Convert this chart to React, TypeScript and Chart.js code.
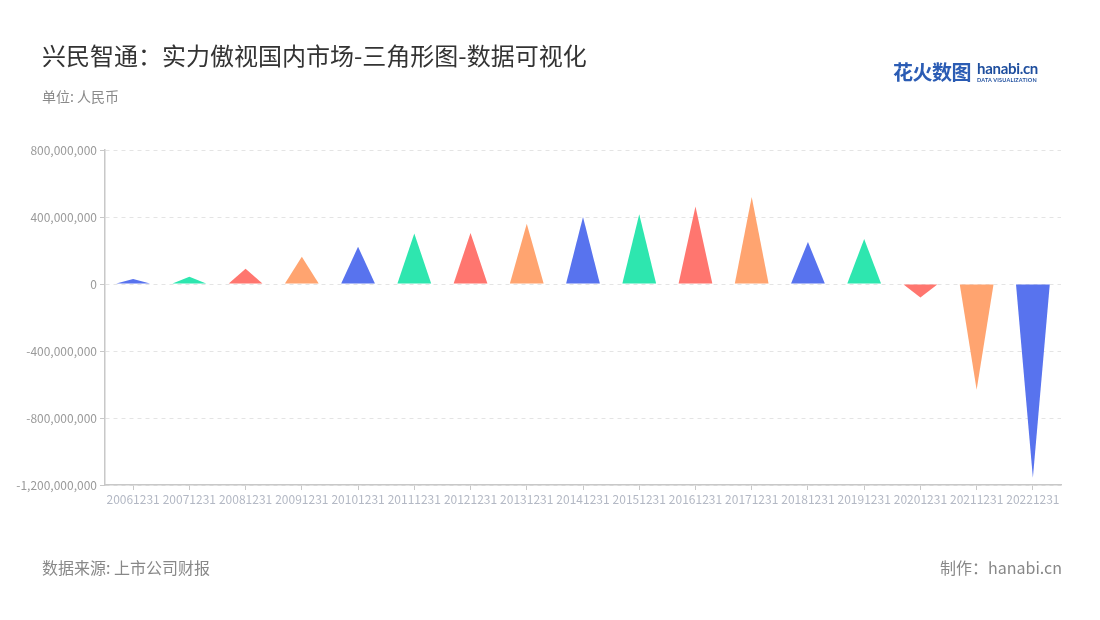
import React, { useEffect, useRef } from "react";
import { Chart, registerables } from "chart.js";

Chart.register(...registerables);

const categories = [
  "20061231", "20071231", "20081231", "20091231", "20101231", "20111231",
  "20121231", "20131231", "20141231", "20151231", "20161231", "20171231",
  "20181231", "20191231", "20201231", "20211231", "20221231",
];
const values = [
  30000000, 43000000, 91000000, 162000000, 222000000, 301000000,
  305000000, 360000000, 400000000, 416000000, 463000000, 519000000,
  251000000, 269000000, -81000000, -632000000, -1156000000,
];
const palette = ["#5873EE", "#2EE6AF", "#FF766F", "#FFA470"];
const yTicks = [800000000, 400000000, 0, -400000000, -800000000, -1200000000];

const FONT = '"Noto Sans CJK SC", "Noto Sans", sans-serif';

const trianglePlugin = {
  id: "triangles",
  beforeDatasetDraw(chart: any, args: any) {
    const meta = args.meta;
    const ds = chart.data.datasets[args.index];
    const ctx = chart.ctx;
    ctx.save();
    meta.data.forEach((el: any, i: number) => {
      const { x, y, base, width } = el.getProps(["x", "y", "base", "width"], true);
      const colors = ds.backgroundColor as string[];
      ctx.fillStyle = colors[i % colors.length];
      ctx.beginPath();
      ctx.moveTo(x - width / 2, base);
      ctx.lineTo(x, y);
      ctx.lineTo(x + width / 2, base);
      ctx.closePath();
      ctx.fill();
    });
    ctx.restore();
    return false;
  },
};

export default function App() {
  const ref = useRef<HTMLCanvasElement>(null);

  useEffect(() => {
    if (!ref.current) return;
    const chart = new Chart(ref.current, {
      type: "bar",
      data: {
        labels: categories,
        datasets: [
          {
            data: values,
            backgroundColor: categories.map((_, i) => palette[i % palette.length]),
            categoryPercentage: 1,
            barPercentage: 0.6,
          },
        ],
      },
      options: {
        responsive: false,
        animation: false,
        layout: { padding: { left: 0, right: 39, top: 150, bottom: 105 } },
        plugins: {
          legend: { display: false },
          tooltip: { enabled: false },
        },
        scales: {
          x: {
            afterFit: (s: any) => {
              s.height = 30;
            },
            grid: {
              display: true,
              drawOnChartArea: false,
              drawTicks: true,
              tickLength: 5,
              tickColor: "#c8c8c8",
              offset: false,
            },
            border: { display: true, color: "#c8c8c8", width: 1.5 },
            ticks: {
              autoSkip: false,
              maxRotation: 0,
              minRotation: 0,
              padding: 2,
              color: "#b3b8c4",
              font: { family: FONT, size: 12 },
            },
          },
          y: {
            min: -1200000000,
            max: 800000000,
            afterFit: (s: any) => {
              s.width = 105;
            },
            afterBuildTicks: (s: any) => {
              s.ticks = yTicks.map((v) => ({ value: v }));
            },
            grid: {
              color: "#e4e4e4",
              lineWidth: 1,
              drawTicks: true,
              tickLength: 5,
              tickColor: "#c8c8c8",
              tickBorderDash: [],
            },
            border: { display: true, color: "#c8c8c8", width: 1.5, dash: [4, 4] },
            ticks: {
              padding: 3,
              color: "#9a9a9a",
              font: { family: FONT, size: 12 },
              callback: (v: any) => Number(v).toLocaleString("en-US"),
            },
          },
        },
      },
      plugins: [trianglePlugin],
    });
    return () => chart.destroy();
  }, []);

  return (
    <div style={{ position: "relative", width: 1100, height: 620, fontFamily: FONT, background: "#fff" }}>
      <style>{"body{margin:0;}"}</style>
      <canvas ref={ref} width={1100} height={620} style={{ position: "absolute", left: 0, top: 0 }} />
      <div style={{ position: "absolute", left: 42, top: 41, fontSize: 24, lineHeight: "27px", color: "#333", whiteSpace: "nowrap" }}>
        兴民智通：实力傲视国内市场-三角形图-数据可视化
      </div>
      <div style={{ position: "absolute", left: 42, top: 88, fontSize: 14, lineHeight: "17px", color: "#8a8a8a", whiteSpace: "nowrap" }}>
        单位: 人民币
      </div>
      <div style={{ position: "absolute", left: 42, top: 557, fontSize: 16, lineHeight: "20px", color: "#888", whiteSpace: "nowrap" }}>
        数据来源: 上市公司财报
      </div>
      <div style={{ position: "absolute", right: 38, top: 557, fontSize: 16, lineHeight: "20px", color: "#888", whiteSpace: "nowrap" }}>
        制作：hanabi.cn
      </div>
      <div style={{ position: "absolute", left: 893, top: 61, fontSize: 20, lineHeight: "22px", color: "#2B5CB4", fontWeight: 700, whiteSpace: "nowrap", letterSpacing: -0.5 }}>
        花火数图
      </div>
      <div style={{ position: "absolute", left: 977, top: 60, fontSize: 15, lineHeight: "17px", color: "#1E4E9E", fontWeight: 700, whiteSpace: "nowrap", fontFamily: "Lato, sans-serif", letterSpacing: -0.3 }}>
        hanabi.cn
      </div>
      <div style={{ position: "absolute", left: 977, top: 77, fontSize: 5.5, lineHeight: "7px", color: "#1E4E9E", fontWeight: 700, whiteSpace: "nowrap", letterSpacing: 0.2, fontFamily: "Lato, sans-serif" }}>
        DATA VISUALIZATION
      </div>
    </div>
  );
}
